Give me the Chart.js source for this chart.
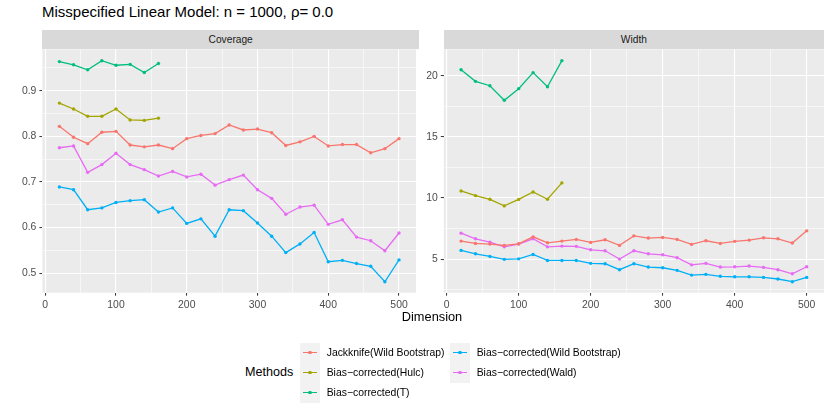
<!DOCTYPE html>
<html>
<head>
<meta charset="utf-8">
<script src="https://cdn.jsdelivr.net/npm/chart.js@4.4.1/dist/chart.umd.min.js"></script>
<style>
  body { margin: 0; background: #fff; font-family: "Liberation Sans", Arial, sans-serif; }
  #wrap { position: relative; width: 830px; height: 415px; overflow: hidden; }
  canvas { position: absolute; }
  .txt { position: absolute; white-space: nowrap; color: #000; }
  .strip { position: absolute; background: #D9D9D9; color: #1A1A1A; font-size: 10.2px;
           display: flex; align-items: center; justify-content: center; }
  .key { position: absolute; width: 20px; height: 20px; background: #F2F2F2; }
  .key i { position: absolute; left: 3px; right: 3px; top: 9.4px; height: 1.3px; }
  .key b { position: absolute; left: 8.4px; top: 8.4px; width: 3.4px; height: 3.4px; border-radius: 50%; }
  .lab { position: absolute; font-size: 10.4px; color: #000; line-height: 20px; white-space: nowrap; }
</style>
</head>
<body>
<div id="wrap">
  <div class="txt" style="left:42px; top:3px; font-size:15px;">Misspecified Linear Model: n = 1000, ρ= 0.0</div>
  <div class="strip" style="left:42.4px; top:30px; width:376.6px; height:19.3px;">Coverage</div>
  <div class="strip" style="left:443.8px; top:30px; width:380.2px; height:19.3px;">Width</div>
  <canvas id="cov" style="left:0; top:40px;"></canvas>
  <canvas id="wid" style="left:420px; top:40px;"></canvas>
  <div class="txt" style="left:432px; top:308.5px; font-size:12.8px; transform:translateX(-50%);">Dimension</div>
  <div class="txt" style="left:245px; top:364.5px; font-size:12.6px;">Methods</div>
  <div id="legend"></div>
</div>
<script>
const dims = [20, 40, 60, 80, 100, 120, 140, 160, 180, 200, 220, 240, 260, 280, 300, 320, 340, 360, 380, 400, 420, 440, 460, 480, 500];

const methods = [
  "Jackknife(Wild Bootstrap)",
  "Bias−corrected(Hulc)",
  "Bias−corrected(T)",
  "Bias−corrected(Wild Bootstrap)",
  "Bias−corrected(Wald)"
];
const colors = ["#F8766D", "#A3A500", "#00BF7D", "#00B0F6", "#E76BF3"];

// Coverage panel
const covJack = [0.822, 0.798, 0.784, 0.809, 0.811, 0.781, 0.777, 0.781, 0.773, 0.795, 0.802, 0.806, 0.825, 0.814, 0.816, 0.808, 0.780, 0.788, 0.800, 0.779, 0.782, 0.782, 0.764, 0.773, 0.795];
const covHulc = [0.873, 0.860, 0.844, 0.844, 0.860, 0.836, 0.835, 0.840];
const covT = [0.964, 0.957, 0.946, 0.966, 0.956, 0.958, 0.940, 0.960];
const covWild = [0.689, 0.683, 0.639, 0.643, 0.655, 0.659, 0.661, 0.634, 0.643, 0.609, 0.619, 0.581, 0.639, 0.637, 0.610, 0.581, 0.545, 0.564, 0.589, 0.525, 0.528, 0.521, 0.515, 0.481, 0.529];
const covWald = [0.775, 0.779, 0.721, 0.738, 0.763, 0.738, 0.727, 0.713, 0.723, 0.711, 0.717, 0.693, 0.705, 0.715, 0.683, 0.664, 0.629, 0.645, 0.649, 0.607, 0.617, 0.579, 0.571, 0.549, 0.588];

// Width panel
const widJack = [6.47, 6.28, 6.23, 6.12, 6.25, 6.82, 6.33, 6.47, 6.61, 6.36, 6.58, 6.12, 6.90, 6.72, 6.77, 6.61, 6.20, 6.50, 6.28, 6.45, 6.55, 6.74, 6.66, 6.31, 7.31];
const widHulc = [10.57, 10.19, 9.89, 9.35, 9.88, 10.49, 9.89, 11.23];
const widT = [20.49, 19.54, 19.18, 17.99, 18.94, 20.25, 19.10, 21.23];
const widWild = [5.71, 5.43, 5.22, 4.98, 5.02, 5.38, 4.89, 4.89, 4.89, 4.65, 4.62, 4.13, 4.62, 4.35, 4.29, 4.08, 3.69, 3.75, 3.59, 3.55, 3.55, 3.50, 3.37, 3.15, 3.50];
const widWald = [7.12, 6.66, 6.39, 6.00, 6.23, 6.66, 6.00, 6.06, 6.04, 5.76, 5.68, 5.00, 5.68, 5.43, 5.35, 5.11, 4.53, 4.65, 4.35, 4.37, 4.43, 4.32, 4.13, 3.80, 4.37];

// tick labels
const xMajor = [0, 100, 200, 300, 400, 500];
const xMinor = [50, 150, 250, 350, 450];
const covMajor = [0.5, 0.6, 0.7, 0.8, 0.9];
const covMinor = [0.55, 0.65, 0.75, 0.85, 0.95];
const widMajor = [5, 10, 15, 20];
const widMinor = [2.5, 7.5, 12.5, 17.5];

const isIn = (arr, v) => arr.some(a => Math.abs(a - v) < 1e-9);

function axisOpts(major, minor, min, max, fmt, fixSize) {
  return {
    type: "linear",
    min: min,
    max: max,
    afterBuildTicks: s => {
      s.ticks = major.concat(minor).sort((a, b) => a - b).map(v => ({ value: v }));
    },
    afterFit: fixSize,
    border: { display: false },
    grid: {
      color: "#FFFFFF",
      lineWidth: c => isIn(major, c.tick.value) ? 1.1 : 0.55,
      tickColor: c => isIn(major, c.tick.value) ? "#333333" : "rgba(0,0,0,0)",
      tickLength: 3,
      tickWidth: 1
    },
    ticks: {
      autoSkip: false,
      maxRotation: 0,
      padding: 3,
      color: "#4D4D4D",
      font: { family: "'Liberation Sans', Arial, sans-serif", size: 10.4 },
      callback: v => isIn(major, v) ? fmt(v) : ""
    }
  };
}

const panelBg = {
  id: "panelBg",
  beforeDraw(chart) {
    const a = chart.chartArea;
    chart.ctx.save();
    chart.ctx.fillStyle = "#EBEBEB";
    chart.ctx.fillRect(a.left, a.top, a.right - a.left, a.bottom - a.top);
    chart.ctx.restore();
  }
};

function series(list) {
  return list.map((vals, i) => ({
    label: methods[i],
    data: vals.map((v, j) => ({ x: dims[j], y: v })),
    borderColor: colors[i],
    backgroundColor: colors[i],
    borderWidth: 1.3,
    pointRadius: 1.7,
    pointBorderWidth: 0,
    tension: 0
  }));
}

function makeChart(id, w, h, data, yMajor, yMinor, yMin, yMax, yFmt, yWidth, padRight) {
  const cv = document.getElementById(id);
  cv.width = w;
  cv.height = h;
  cv.style.width = w + "px";
  cv.style.height = h + "px";
  return new Chart(cv, {
    type: "line",
    data: { datasets: series(data) },
    options: {
      responsive: false,
      animation: false,
      devicePixelRatio: 1,
      layout: { padding: { left: 0, right: padRight, top: 9.3, bottom: 7.3 } },
      plugins: { legend: { display: false }, tooltip: { enabled: false } },
      scales: {
        x: axisOpts(xMajor, xMinor, -4, 524, v => String(v), s => { s.height = 20; }),
        y: axisOpts(yMajor, yMinor, yMin, yMax, yFmt, s => { s.width = yWidth; })
      }
    },
    plugins: [panelBg]
  });
}

makeChart("cov", 420, 280, [covJack, covHulc, covT, covWild, covWald],
  covMajor, covMinor, 0.457, 0.991, v => v.toFixed(1), 42.4, 1);
makeChart("wid", 410, 280, [widJack, widHulc, widT, widWild, widWald],
  widMajor, widMinor, 2.25, 22.16, v => String(v), 23.8, 6);

// legend: two columns, filled column by column
const legend = document.getElementById("legend");
const slots = [[300, 342.7], [300, 362.7], [300, 382.7], [450, 342.7], [450, 362.7]];
methods.forEach((m, i) => {
  const [x, y] = slots[i];
  const key = document.createElement("div");
  key.className = "key";
  key.style.left = x + "px";
  key.style.top = y + "px";
  key.innerHTML = `<i style="background:${colors[i]}"></i><b style="background:${colors[i]}"></b>`;
  legend.appendChild(key);
  const lab = document.createElement("div");
  lab.className = "lab";
  lab.style.left = (x + 26.7) + "px";
  lab.style.top = y + "px";
  lab.textContent = m;
  legend.appendChild(lab);
});
</script>
</body>
</html>
